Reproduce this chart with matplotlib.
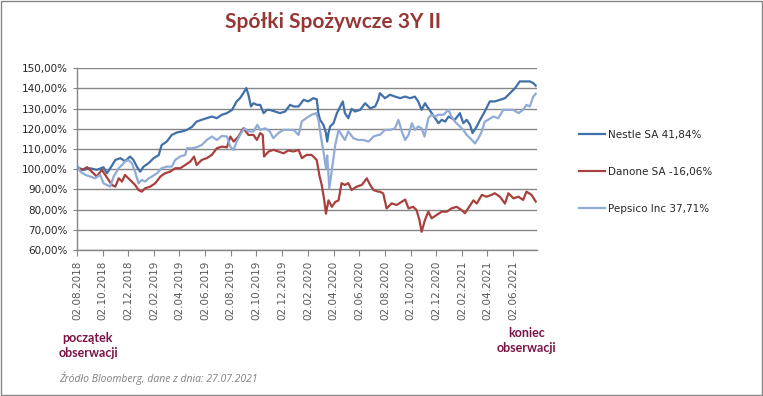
import numpy as np
import pandas as pd
import matplotlib
matplotlib.use("Agg")
import matplotlib.pyplot as plt
import matplotlib.dates as mdates
from matplotlib.ticker import FuncFormatter
from matplotlib.patches import Rectangle

# days since 02.08.2018 and index level (%)
nestle_days = [0, 16, 31, 47, 63, 71, 79, 91, 103, 114, 126, 134, 142, 150, 158, 170, 182, 194,
               201, 213, 225, 237, 249, 261, 273, 284, 296, 308, 320, 332, 344, 356,
               368, 379, 387, 395, 402, 407, 413, 419, 427, 435, 443, 451, 458, 470, 482, 494,
               506, 514, 526, 538, 549, 561, 569, 573, 577, 585, 591, 594, 597, 601, 609, 617,
               625, 631, 636, 644, 652, 660, 672, 684, 696, 708, 715,
               719, 731, 743, 755, 767, 779, 791, 802, 810, 818, 826, 834, 842, 850, 858, 866,
               874, 882, 889, 897, 909, 917, 925, 933, 939, 949, 957, 968, 980, 992, 1004,
               1016, 1028, 1040, 1051, 1063, 1075, 1083, 1089]
nestle_vals = [101.0, 99.7, 100.5, 99.7, 101.0, 98.0, 100.5, 104.6, 105.5, 104.0, 106.3, 104.6,
               101.3, 98.8, 101.3, 103.0, 105.5, 107.0, 112.0, 113.7, 117.0, 118.2, 118.7, 119.5,
               121.0, 123.6, 124.5, 125.3, 126.1, 125.3, 127.0, 127.8,
               129.4, 133.6, 135.2, 137.7, 140.2, 136.9, 131.1, 132.7, 131.9, 131.9, 127.8, 129.4,
               129.4, 128.6, 127.8, 128.6, 131.9, 131.1, 131.1, 134.4, 133.6, 135.2, 134.7, 127.8,
               124.5, 122.0, 118.0, 113.7, 118.0, 121.2, 122.8, 127.8, 131.1, 133.6, 127.8, 125.3,
               129.9, 128.6, 129.4, 132.7, 130.2, 131.1, 134.4,
               137.7, 135.2, 136.9, 136.0, 135.2, 136.0, 135.2, 136.0, 133.6, 129.4, 132.7, 130.2,
               127.8, 125.3, 122.8, 124.5, 123.6, 126.1, 125.3, 124.5, 127.8, 122.8, 124.5, 122.0,
               117.9, 121.2, 124.5, 128.6, 133.6, 133.6, 134.4, 135.2, 137.7, 140.2, 143.5, 143.5,
               143.5, 142.7, 141.4]

danone_days = [0, 12, 24, 35, 47, 59, 67, 75, 83, 91, 99, 107, 114, 122, 130, 138, 146, 154, 162,
               174, 186, 198, 209, 221, 233, 245, 257, 269, 278, 284, 296, 308, 320, 332, 344, 356,
               364, 372, 383, 395, 407, 419, 427, 435, 441, 444, 455, 466, 478, 490, 502, 514, 526,
               534, 545, 557, 569, 576, 581, 587, 591, 597, 605, 613, 621, 628, 636, 644, 652, 664,
               676, 688, 696, 704, 715,
               719, 727, 735, 747, 759, 771, 779, 787, 798, 806, 813, 818, 826, 834, 842, 854, 866,
               878, 889, 901, 913, 921, 931, 941, 949, 961, 972, 984, 992, 1004, 1016, 1024, 1036,
               1048, 1059, 1067, 1079, 1089]
danone_vals = [100.5, 99.7, 101.0, 98.8, 96.4, 99.7, 97.2, 94.7, 92.2, 91.4, 95.5, 93.9, 97.2, 95.5,
               93.9, 92.2, 89.7, 88.9, 90.6, 91.4, 93.1, 96.4, 98.0, 98.8, 100.5, 100.5, 102.1, 103.8,
               106.3, 102.1, 104.6, 105.5, 107.1, 110.4, 111.2, 110.9,
               116.2, 113.7, 116.2, 120.3, 117.0, 117.0, 114.5, 117.9, 117.0, 106.3, 108.8, 109.6,
               108.8, 107.9, 109.3, 108.8, 109.6, 105.5, 107.1, 107.1, 104.6, 96.4, 92.2, 84.6, 78.0,
               84.6, 81.4, 83.8, 84.6, 93.1, 92.2, 93.1, 89.7, 91.4, 92.2, 95.5, 92.2, 89.7, 88.9,
               88.9, 88.0, 80.6, 83.1, 82.3, 83.9, 85.0, 80.6, 81.4, 79.8, 74.8, 69.0, 74.8, 79.0,
               75.7, 77.4, 79.0, 79.0, 80.6, 81.4, 79.8, 78.2, 81.4, 84.6, 83.0, 87.3, 86.4, 87.3,
               88.1, 86.4, 83.0, 88.1, 85.6, 86.4, 84.8, 88.9, 87.3, 84.0]

pepsico_days = [0, 8, 20, 31, 43, 55, 63, 71, 79, 87, 99, 107, 114, 122, 130, 138, 146, 154, 162,
                170, 178, 190, 201, 213, 225, 233, 245, 257, 261, 273, 284, 296, 308, 320, 332, 344,
                356, 364, 372, 379, 387, 397, 407, 419, 428, 435, 447, 458, 466, 478, 490, 502, 514,
                526, 534, 545, 557, 568, 573, 579, 585, 591, 594, 599, 605, 613, 621, 628, 636, 644,
                656, 668, 680, 692, 704, 715,
                719, 731, 743, 755, 763, 771, 779, 787, 795, 802, 810, 818, 825, 834, 842, 850, 858,
                870, 882, 889, 897, 909, 917, 925, 933, 945, 953, 961, 968, 976, 988, 1000, 1012,
                1024, 1036, 1048, 1059, 1067, 1075, 1083, 1089]
pepsico_vals = [102.1, 98.8, 97.2, 96.4, 95.5, 97.2, 93.0, 92.2, 91.4, 96.4, 100.5, 102.1, 103.8,
                104.6, 103.0, 98.8, 93.0, 94.7, 93.9, 95.5, 96.4, 98.0, 100.5, 101.3, 101.3, 104.6,
                106.3, 107.1, 110.4, 110.4, 110.9, 112.0, 114.5, 116.2, 114.5, 116.5, 116.2,
                111.2, 109.6, 113.7, 117.0, 120.3, 118.7, 118.7, 122.0, 119.5, 120.3, 118.7, 115.4,
                117.9, 119.5, 119.5, 119.5, 117.0, 123.8, 125.4, 127.0, 127.8, 124.5, 116.2, 108.8,
                100.5, 106.8, 90.6, 99.7, 112.0, 119.5, 117.0, 114.5, 118.7, 115.4, 114.5, 114.5,
                113.7, 116.2, 117.0,
                117.0, 119.5, 119.5, 120.3, 124.5, 118.7, 114.5, 117.0, 122.8, 119.5, 121.2, 120.3,
                116.2, 125.3, 127.0, 126.1, 127.0, 127.0, 129.4, 126.1, 123.6, 121.2, 119.5, 117.0,
                115.4, 112.8, 115.4, 118.7, 123.6, 124.5, 126.1, 125.3, 129.4, 129.4, 129.4, 127.8,
                129.4, 131.9, 131.1, 136.0, 137.4]

labels = ["Nestle SA 41,84%", "Danone SA -16,06%", "Pepsico Inc 37,71%"]
colors = ["#4170A8", "#A8403D", "#8FABD6"]

start = pd.Timestamp("2018-08-02")
tick_dates = pd.date_range("2018-08-01", "2021-06-01", freq="2MS") + pd.Timedelta(days=1)

fig = plt.figure(figsize=(7.63, 3.96), dpi=100)
ax = fig.add_axes([0.1009, 0.3687, 0.6029, 0.4588])

series = [(nestle_days, nestle_vals), (danone_days, danone_vals), (pepsico_days, pepsico_vals)]
for (d, v), lab, c in zip(series, labels, colors):
    x = start + pd.to_timedelta(d, unit="D")
    ax.plot(x, v, color=c, lw=1.6, label=lab, solid_joinstyle="round")

ax.set_ylim(60, 150)
ax.set_yticks(np.arange(60, 151, 10))
ax.yaxis.set_major_formatter(FuncFormatter(lambda v, p: f"{v:.2f}%".replace(".", ",")))
ax.set_xlim(start, start + pd.Timedelta(days=1092))
ax.set_xticks(tick_dates)
ax.xaxis.set_major_formatter(mdates.DateFormatter("%d.%m.%Y"))
plt.setp(ax.get_xticklabels(), rotation=90)

ax.grid(axis="y", color="#868686", lw=1)
ax.set_axisbelow(True)
for s in ["top", "right"]:
    ax.spines[s].set_visible(False)
for s in ["left", "bottom"]:
    ax.spines[s].set_color("#868686")
    ax.spines[s].set_linewidth(1)
ax.tick_params(axis="y", labelsize=7.5, labelcolor="#262626", color="#868686", length=3)
ax.tick_params(axis="x", labelsize=7.5, labelcolor="#595959", color="#868686", length=4)

fig.legend(loc="center left", bbox_to_anchor=(0.7588, 0.5657), frameon=False,
           fontsize=7.5, labelspacing=2.6, handlelength=2.5, handletextpad=0.3,
           borderpad=0, borderaxespad=0, labelcolor="#262626")

fig.text(0.437, 0.945, "Spółki Spożywcze 3Y II", ha="center", va="center",
         fontsize=15, fontweight="bold", color="#953735", family="Lato")
fig.text(0.1153, 0.127, "początek\nobserwacji", ha="center", va="center", fontsize=9,
         fontweight="bold", color="#7A1446", family="Lato", linespacing=1.35)
fig.text(0.690, 0.140, "koniec\nobserwacji", ha="center", va="center", fontsize=9,
         fontweight="bold", color="#7A1446", family="Lato", linespacing=1.35)
fig.text(0.077, 0.045, "Źródło Bloomberg, dane z dnia: 27.07.2021", ha="left", va="center",
         fontsize=7.5, style="italic", color="#808080", family="Open Sans")

fig.patches.append(Rectangle((0.0007, 0.0013), 0.9986, 0.9974, transform=fig.transFigure,
                             fill=False, edgecolor="#868686", lw=1))

fig.savefig("out.png", dpi=100)
